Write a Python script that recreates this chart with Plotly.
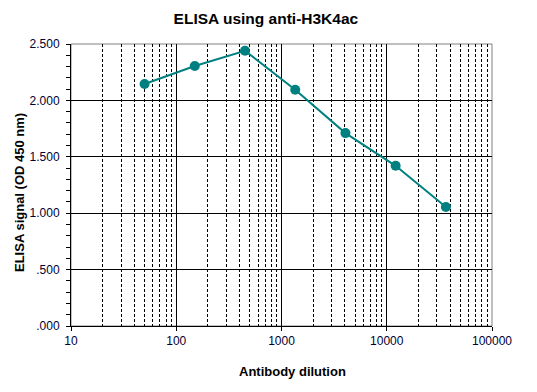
import plotly.graph_objects as go

dilution = [50, 150, 450, 1350, 4050, 12150, 36450]
signal = [2.145, 2.305, 2.44, 2.095, 1.71, 1.42, 1.055]

y_ticks = [0, 0.5, 1.0, 1.5, 2.0, 2.5]
y_labels = [".000", ".500", "1.000", "1.500", "2.000", "2.500"]
x_ticks = [10, 100, 1000, 10000, 100000]
x_labels = ["10", "100", "1000", "10000", "100000"]

minor_x = [k * 10 ** n for n in range(1, 5) for k in range(2, 10)]

font = "Liberation Sans, Arial, sans-serif"
txt = "#000033"

fig = go.Figure()
fig.add_trace(go.Scatter(
    x=dilution, y=signal, mode="lines+markers",
    line=dict(color="#008080", width=2),
    marker=dict(color="#008080", size=10),
    showlegend=False,
))

fig.update_layout(
    width=521, height=376,
    margin=dict(l=63, r=37, t=36, b=58),
    paper_bgcolor="white", plot_bgcolor="white",
    font=dict(family=font, size=12, color=txt),
    title=dict(text="<b>ELISA using anti-H3K4ac</b>", x=0.495, xanchor="center",
               y=0.973, yanchor="middle", xref="container", yref="container",
               font=dict(family=font, size=15.5, color="black")),
)

fig.update_xaxes(
    type="log", range=[1, 5], automargin=False,
    tickvals=x_ticks, ticktext=x_labels,
    ticks="outside", ticklen=4, tickcolor="black",
    showgrid=True, gridcolor="black", gridwidth=1,
    showline=True, linecolor="black", linewidth=1,
    mirror=False, zeroline=False,
    minor=dict(tickvals=minor_x, showgrid=True, gridcolor="black",
               griddash="3px,2px", gridwidth=1, ticks=""),
    tickfont=dict(family=font, size=12, color=txt),
)

fig.update_yaxes(
    range=[0, 2.5], automargin=False,
    tickvals=y_ticks, ticktext=y_labels,
    ticks="outside", ticklen=4, tickcolor="black",
    ticklabelstandoff=4,
    showgrid=True, gridcolor="black", gridwidth=1,
    showline=True, linecolor="black", linewidth=1,
    zeroline=False,
    minor=dict(dtick=0.1, ticks="outside", ticklen=4, tickcolor="black", showgrid=False),
    tickfont=dict(family=font, size=12, color=txt),
)

fig.add_annotation(text="<b>Antibody dilution</b>", xref="paper", yref="paper",
                   x=0.527, y=0, yshift=-45, xanchor="center", yanchor="middle",
                   showarrow=False, font=dict(family=font, size=13, color="black"))
fig.add_annotation(text="<b>ELISA signal (OD 450 nm)</b>", xref="paper", yref="paper",
                   x=0, y=0.5, xshift=-52, yshift=-8, textangle=-90,
                   xanchor="center", yanchor="middle",
                   showarrow=False, font=dict(family=font, size=13, color="black"))

# gray top/right border
fig.add_shape(type="rect", xref="paper", yref="paper", x0=0, y0=0, x1=1, y1=1,
              line=dict(color="#808080", width=1), layer="below")

fig.write_html("out.html")
